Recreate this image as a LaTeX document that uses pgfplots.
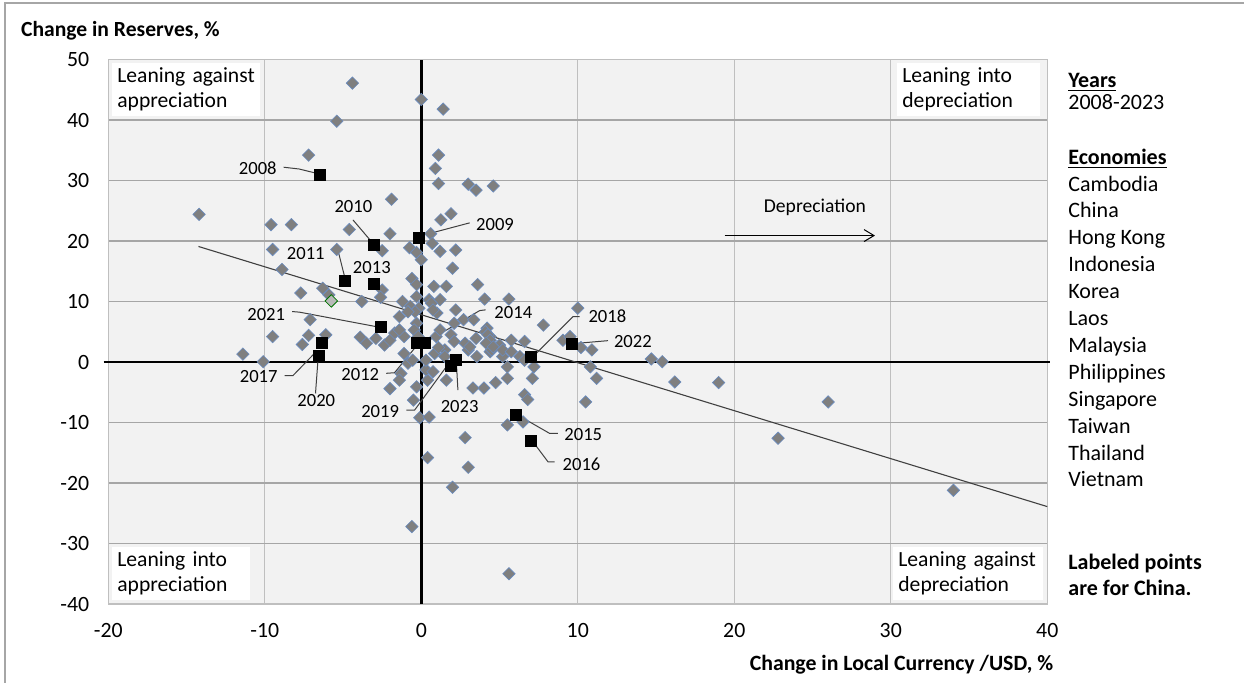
\documentclass[border=0pt]{standalone}
\usepackage{fontspec}
\setmainfont{Carlito}
\usepackage{pgfplots}
\pgfplotsset{compat=1.18}
\usetikzlibrary{arrows.meta}

\definecolor{plotbg}{HTML}{F2F2F2}
\definecolor{gridh}{HTML}{A6A6A6}
\definecolor{gridv}{HTML}{BFBFBF}
\definecolor{dia}{HTML}{7F7F7F}
\definecolor{diaedge}{HTML}{6A8CC0}
\definecolor{trend}{HTML}{404040}
\definecolor{leader}{HTML}{404040}
\definecolor{frame}{HTML}{A6A6A6}

\newcommand{\fs}[2]{\fontsize{#1}{#2}\selectfont}

% all economies, one point per economy and year
\pgfplotstableread{
x y
-4.4 46.1
0.0 43.4
1.4 41.8
-5.4 39.8
-7.2 34.2
1.1 34.2
0.9 32.0
1.1 29.5
3.0 29.4
3.5 28.4
4.6 29.1
-1.9 26.9
-14.2 24.4
1.9 24.5
1.25 23.5
-9.6 22.7
-8.3 22.7
-4.6 21.9
-2.0 21.2
0.6 21.2
0.7 19.6
-0.75 18.9
1.2 18.3
2.2 18.5
-2.5 18.4
-0.3 18.1
0.0 16.9
2.0 15.5
-9.5 18.6
-5.4 18.6
-8.9 15.3
-0.6 13.8
-0.3 12.8
0.8 12.5
1.6 12.5
3.6 12.8
-2.5 11.9
-2.6 10.7
-1.2 10.0
-0.3 10.8
0.5 10.3
1.2 10.3
-3.8 10.0
-0.7 9.2
-0.15 8.9
-6.3 12.2
-7.7 11.4
-5.9 11.1
-7.1 7.0
-9.5 4.2
-7.2 4.4
-6.1 4.5
-7.6 2.9
-3.9 4.1
-3.5 3.1
-2.9 3.9
-2.35 2.8
-1.1 4.2
-11.4 1.3
-10.1 0.05
-1.1 1.4
-2.0 -4.4
-1.3 -1.9
-0.5 -6.3
-0.4 8.3
0.65 9.7
1.0 8.1
-2.0 3.6
-1.7 4.8
-1.4 5.3
-0.85 -0.2
-1.4 -3.0
-0.3 -4.1
0.4 -3.0
0.3 -1.3
0.3 0.3
0.85 1.4
1.5 2.0
0.95 4.2
1.2 5.3
1.9 4.5
2.1 3.4
2.8 3.1
3.0 2.0
3.5 3.9
2.7 7.0
2.2 8.6
-0.1 -9.2
0.5 -9.1
1.6 -3.0
4.05 10.4
5.6 10.4
3.35 7.0
7.8 6.1
10.0 8.9
4.2 5.6
4.4 4.2
5.0 2.8
5.75 3.6
6.6 3.4
3.1 2.5
3.55 0.9
4.4 1.7
5.2 0.9
5.5 -0.8
6.3 0.9
7.2 -0.8
7.1 -2.7
5.5 -2.7
4.75 -3.4
4.0 -4.3
3.3 -4.3
6.6 -5.4
6.8 -6.2
9.05 3.6
9.5 4.2
10.2 2.4
10.9 2.0
10.8 -0.8
11.2 -2.7
10.5 -6.6
14.7 0.5
15.4 0.05
1.1 2.4
1.5 0.9
0.75 -1.6
-0.55 0.3
-0.3 6.4
-0.45 5.3
-0.2 4.2
-0.85 8.3
-1.4 7.5
0.75 8.6
2.1 6.4
4.1 5.0
4.25 4.5
4.4 3.6
4.15 3.1
4.5 2.0
4.6 2.5
5.2 2.0
5.75 1.7
6.6 0.3
2.8 -12.5
0.4 -15.8
3.0 -17.4
2.0 -20.7
-0.6 -27.2
5.6 -35.0
5.5 -10.4
6.5 -9.9
16.2 -3.3
19.0 -3.4
26.0 -6.6
22.8 -12.6
34.0 -21.2
}\economies

% China
\pgfplotstableread{
x y year
-6.5 31.0 2008
-0.15 20.5 2009
-3.0 19.4 2010
-4.9 13.4 2011
-0.26 3.1 2012
-3.0 12.9 2013
0.26 3.1 2014
6.03 -8.7 2015
7.03 -13.0 2016
-6.36 3.1 2017
7.03 0.8 2018
1.87 -0.66 2019
-6.57 1.0 2020
-2.56 5.85 2021
9.63 3.0 2022
2.24 0.33 2023
}\china

\begin{document}
\begin{tikzpicture}
\begin{axis}[
  at={(0pt,0pt)}, anchor=south west,
  scale only axis, width=469.5pt, height=272.25pt,
  xmin=-20, xmax=40, ymin=-40, ymax=50,
  xtick={-20,-10,...,40}, ytick={-40,-30,...,50},
  xmajorgrids, ymajorgrids,
  x grid style={gridv, line width=0.7pt},
  y grid style={gridh, line width=0.6pt},
  axis background/.style={fill=plotbg},
  axis line style={draw=gridv, line width=0.6pt},
  tick style={draw=none},
  /pgf/number format/assume math mode=true,
  ticklabel style={font=\fs{10.9}{13}},
  xticklabel style={yshift=-6pt},
  yticklabel style={xshift=-6pt},
  clip=false,
]
% zero lines
\draw[black, line width=1.3pt] (axis cs:0,-40) -- (axis cs:0,50);
\draw[black, line width=1.3pt] (axis cs:-20.3,0) -- (axis cs:40.2,0);

% all economies
\addplot[only marks, mark=square*, mark size=2.2pt,
  mark options={rotate=45, fill=dia, draw=diaedge, line width=0.3pt}]
  table[x=x, y=y] {\economies};
\addplot[only marks, mark=square*, mark size=2.2pt,
  mark options={rotate=45, fill=dia!55, draw=green!45!black, line width=0.4pt}]
  coordinates {(-5.75,10.1)};

% linear trend
\addplot[trend, line width=0.55pt] coordinates {(-14.24,19.1) (40,-23.9)};

% China
\addplot[only marks, mark=square*, mark size=2.75pt,
  mark options={fill=black, draw=black}]
  table[x=x, y=y] {\china};

% year labels with leader lines
\begin{scope}[leader, line width=0.5pt]
\draw (axis cs:-8.8,32.2) -- (axis cs:-7.8,31.9) -- (axis cs:-6.7,31.2);
\draw (axis cs:-4.37,23.5) -- (axis cs:-3.2,19.95);
\draw (axis cs:3.09,23.0) -- (axis cs:0.32,21.1);
\draw (axis cs:-5.54,18.0) -- (axis cs:-5.27,17.9) -- (axis cs:-4.9,14.1);
\draw (axis cs:-8.25,8.34) -- (axis cs:-7.78,8.24) -- (axis cs:-2.88,5.85);
\draw (axis cs:-8.74,-2.27) -- (axis cs:-8.21,-2.27) -- (axis cs:-6.82,1.44);
\draw (axis cs:-6.76,-5.2) -- (axis cs:-6.61,0.05);
\draw (axis cs:-2.24,-1.87) -- (axis cs:-1.71,-1.77) -- (axis cs:-0.43,2.27);
\draw (axis cs:-0.96,-7.96) -- (axis cs:-0.43,-7.96) -- (axis cs:1.6,-0.78);
\draw (axis cs:2.34,-4.64) -- (axis cs:2.24,0.05);
\draw (axis cs:4.11,8.62) -- (axis cs:3.73,8.5) -- (axis cs:0.53,3.65);
\draw (axis cs:10.12,7.5) -- (axis cs:9.69,7.5) -- (axis cs:7.35,1.44);
\draw (axis cs:11.93,3.53) -- (axis cs:10.01,3.1);
\draw (axis cs:8.73,-11.8) -- (axis cs:8.2,-11.8) -- (axis cs:6.29,-8.96);
\draw (axis cs:8.52,-16.5) -- (axis cs:8.1,-16.5) -- (axis cs:7.14,-13.2);
\end{scope}
\begin{scope}[every node/.style={font=\fs{9.3}{11}, inner sep=0pt}]
\node at (axis cs:-10.45,32.0) {2008};
\node at (axis cs:-4.34,25.75) {2010};
\node at (axis cs:4.71,22.8) {2009};
\node at (axis cs:-7.38,17.86) {2011};
\node at (axis cs:-3.16,15.6) {2013};
\node at (axis cs:-9.91,7.8) {2021};
\node at (axis cs:-10.39,-2.32) {2017};
\node at (axis cs:-6.71,-6.3) {2020};
\node at (axis cs:-3.9,-1.99) {2012};
\node at (axis cs:-2.63,-8.24) {2019};
\node at (axis cs:2.45,-7.3) {2023};
\node at (axis cs:5.88,8.18) {2014};
\node at (axis cs:11.89,7.5) {2018};
\node at (axis cs:13.52,3.37) {2022};
\node at (axis cs:10.35,-12.0) {2015};
\node at (axis cs:10.24,-16.97) {2016};
\end{scope}

% direction of depreciation
\node[font=\fs{9.8}{12}] at (axis cs:25.15,25.5) {Depreciation};
\draw[black, line width=0.5pt, -{Straight Barb[length=5pt,width=6pt]}]
  (axis cs:19.39,20.9) -- (axis cs:28.99,20.9);
\end{axis}

\path[use as bounding box] (-54.15pt,-39pt) rectangle (567.85pt,302pt);
\draw[frame, line width=0.6pt] (-51.65pt,-45pt) -- (-51.65pt,300.5pt) -- (575pt,300.5pt);

% quadrant captions
\begin{scope}[every node/.style={fill=white, inner xsep=2.5pt, inner ysep=2.2pt,
    align=left, font=\fs{10.8}{12.5}}]
\node[anchor=north west, text width=69pt] at (1.85pt,270.5pt) {Leaning against\\appreciation};
\node[anchor=north west, text width=66.5pt] at (394.35pt,270.5pt) {Leaning into\\depreciation};
\node[anchor=south west, text width=64pt] at (1.85pt,2pt) {Leaning into\\appreciation};
\node[anchor=south west, text width=70pt] at (392.35pt,2pt) {Leaning against\\depreciation};
\end{scope}

% axis titles
\node[anchor=base west, font=\bfseries\fs{10.8}{13}, inner sep=0pt] at (-43.8pt,284pt) {Change in Reserves, \%};
\node[anchor=base, font=\bfseries\fs{10.9}{13}, inner sep=0pt] at (396.6pt,-33pt) {Change in Local Currency /USD, \%};

% side notes
\begin{scope}[every node/.style={anchor=base west, inner sep=0pt, font=\fs{11}{13.45}}]
\node at (479.85pt,258.5pt) {\underline{\textbf{Years}}};
\node at (479.85pt,247.5pt) {2008-2023};
\node at (479.85pt,220pt) {\underline{\textbf{Economies}}};
\node at (479.85pt,206.5pt) {Cambodia};
\node at (479.85pt,193.05pt) {China};
\node at (479.85pt,179.6pt) {Hong Kong};
\node at (479.85pt,166.15pt) {Indonesia};
\node at (479.85pt,152.7pt) {Korea};
\node at (479.85pt,139.25pt) {Laos};
\node at (479.85pt,125.8pt) {Malaysia};
\node at (479.85pt,112.35pt) {Philippines};
\node at (479.85pt,98.9pt) {Singapore};
\node at (479.85pt,85.45pt) {Taiwan};
\node at (479.85pt,72pt) {Thailand};
\node at (479.85pt,58.55pt) {Vietnam};
\node[font=\bfseries\fs{11}{13.45}] at (479.85pt,17.5pt) {Labeled points};
\node[font=\bfseries\fs{11}{13.45}] at (479.85pt,4.5pt) {are for China.};
\end{scope}
\end{tikzpicture}
\end{document}
